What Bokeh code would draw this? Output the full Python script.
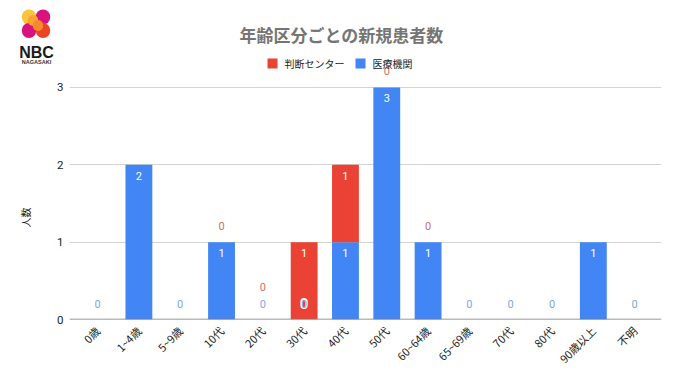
from bokeh.plotting import figure
from bokeh.models import (Range1d, FixedTicker, Span, Label, BoxAnnotation)
from bokeh.core.properties import value
from bokeh.embed import file_html
from bokeh.resources import INLINE
import math

categories = ["0歳", "1~4歳", "5~9歳", "10代", "20代", "30代", "40代", "50代",
              "60~64歳", "65~69歳", "70代", "80代", "90歳以上", "不明"]
iryo = [0, 2, 0, 1, 0, 0, 1, 3, 1, 0, 0, 0, 1, 0]
handan = [0, 0, 0, 0, 0, 1, 1, 0, 0, 0, 0, 0, 0, 0]
handan_labelled = [False, False, False, True, True, True, True, True, True,
                   False, False, False, False, False]
series_names = ["判断センター", "医療機関"]
title_text = "年齢区分ごとの新規患者数"
y_title = "人数"
y_ticks = [0, 1, 2, 3]

RED = "#ea4335"
BLUE = "#4285f4"
JP = "Noto Sans CJK JP"

p = figure(width=664, height=382, output_backend="svg", toolbar_location=None,
           x_range=Range1d(-0.68, 13.65), y_range=Range1d(0, 3.4),
           min_border_left=69, min_border_right=3, min_border_top=56, min_border_bottom=63,
           outline_line_color=None, background_fill_color="white", border_fill_color="white")

xs = list(range(len(categories)))
red_base = iryo
red_top = [a + b for a, b in zip(iryo, handan)]
p.vbar(x=xs, bottom=[0] * len(xs), top=iryo, width=0.65, color=BLUE, line_color=None)
p.vbar(x=xs, bottom=red_base, top=red_top, width=0.65, color=RED, line_color=None)

# grid / axes
p.xgrid.visible = False
p.ygrid.ticker = FixedTicker(ticks=y_ticks)
p.ygrid.grid_line_color = "#d4d4d4"
p.ygrid.grid_line_width = 1
p.yaxis.ticker = FixedTicker(ticks=y_ticks)
p.yaxis.axis_line_color = None
p.yaxis.major_tick_line_color = None
p.yaxis.major_tick_out = 0
p.yaxis.minor_tick_line_color = None
p.yaxis.major_label_text_font = "Roboto"
p.yaxis.major_label_text_font_size = "11.5px"
p.yaxis.major_label_text_color = "#222222"
p.yaxis.major_label_standoff = 6
p.xaxis.ticker = FixedTicker(ticks=xs)
p.xaxis.major_label_overrides = {i: c for i, c in enumerate(categories)}
p.xaxis.axis_line_color = None
p.xaxis.major_tick_line_color = None
p.xaxis.minor_tick_line_color = None
p.xaxis.major_label_orientation = math.pi / 4
p.xaxis.major_label_text_font = JP
p.xaxis.major_label_text_font_size = "11px"
p.xaxis.major_label_text_color = "#222222"
p.xaxis.major_label_standoff = 3
p.add_layout(Span(location=0, dimension="width", line_color="#777777", line_width=1.5))

# data labels
for i in xs:
    inside = iryo[i] > 0
    y = iryo[i] if inside else 0
    off = 11 if inside else -16
    col = "white" if inside else "#7fa6e6"
    if i == 5:  # overprinted zero inside the red bar
        p.text([i], [0], text=["0"], text_color="white", text_align="center", text_baseline="middle",
               text_font=value("Roboto"), text_font_size="15px", text_font_style="bold", y_offset=-16)
        col = "#8fb4ee"
    p.text([i], [y], text=[str(iryo[i])], text_color=col, text_align="center", text_baseline="middle",
           text_font=value("Roboto"), text_font_size="11px", y_offset=off)
    if handan_labelled[i]:
        if handan[i] > 0:
            ry, roff, rcol = red_top[i], 11, "white"
        else:
            ry, roff, rcol = red_top[i], (-33 if red_top[i] == 0 else -16), "#cf6f63"
        p.text([i], [ry], text=[str(handan[i])], text_color=rcol, text_align="center", text_baseline="middle",
               text_font=value("Roboto"), text_font_size="11px", y_offset=roff)


def lab(text, x, y, size, color="#222222", font=JP, style="normal", align="left", angle=0, side=None):
    l = Label(x=x, y=y, x_units="canvas", y_units="canvas", text=text,
              text_font=font, text_font_size=size, text_color=color, text_font_style=style,
              text_align=align, text_baseline="middle", angle=angle)
    if side:
        p.add_layout(l, side)
    else:
        p.add_layout(l)


def box(l, r, t, b, color):
    p.add_layout(BoxAnnotation(left=l, right=r, top=t, bottom=b,
                               left_units="canvas", right_units="canvas", top_units="canvas",
                               bottom_units="canvas", fill_color=color, fill_alpha=1, line_color=None,
                               level="overlay"))


def blob(x, y, r, color):
    p.add_layout(Label(x=x, y=y, x_units="canvas", y_units="canvas", text="\u00a0",
                       text_font_size="1px", text_align="center", text_baseline="middle",
                       border_line_color=color, border_line_width=2 * r, border_line_join="round",
                       border_line_cap="round", border_radius=0), "left")


# title, legend, y title
lab(title_text, 341, 33.5, "17px", color="#757575", style="bold", align="center", side="above")
box(267, 277, 58, 68, RED)
lab(series_names[0], 284, 62.5, "10px")
box(355, 365, 58, 68, BLUE)
lab(series_names[1], 372, 62.5, "10px")
lab(y_title, 25, 217, "10px", align="center", angle=math.pi / 2, side="left")

# logo
blob(28.5, 16.5, 7, "#fbc33f")
blob(42.5, 16.5, 7, "#d9127e")
blob(28.5, 30, 7, "#d9127e")
blob(42.5, 30, 7, "#ec4526")
blob(32.5, 20, 5, "#f9a233")
blob(37.5, 25, 5, "#f58a2a")
lab("NBC", 36, 51.5, "16px", color="#1a1a1a", font="Liberation Sans", style="bold", align="center", side="above")
lab("NAGASAKI", 36, 61.5, "5.5px", color="#333333", font="Liberation Sans", style="bold", align="center", side="above")

open("out.html", "w").write(file_html(p, INLINE))
